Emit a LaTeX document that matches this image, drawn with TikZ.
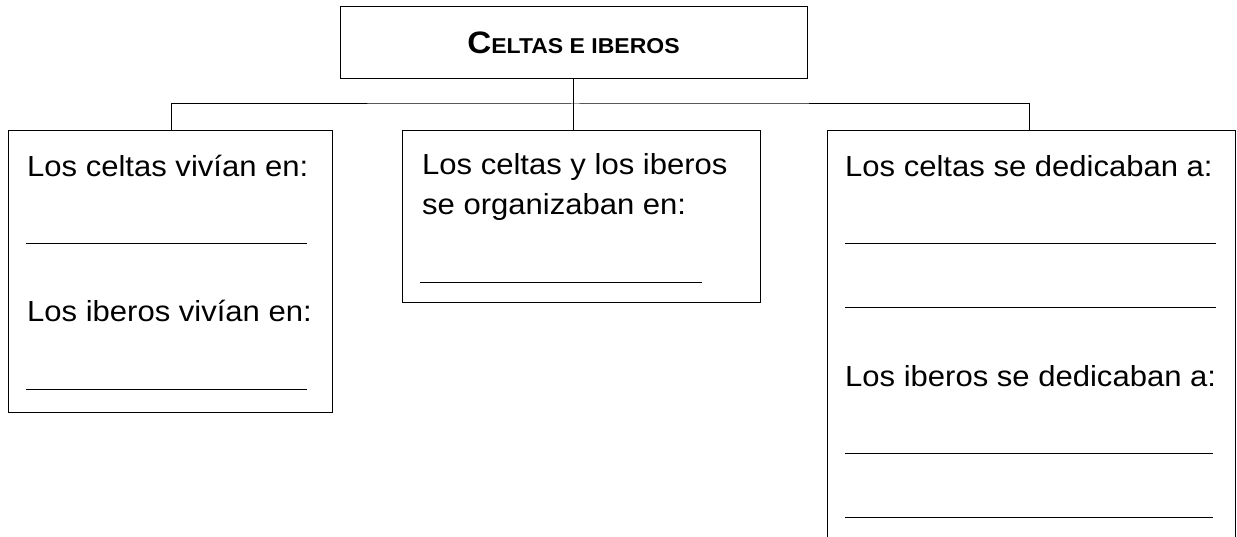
\documentclass[tikz,border=0pt]{standalone}
\usepackage{fontspec}
\setmainfont{Liberation Sans}[FakeStretch=1.07]
\usetikzlibrary{positioning}
\tikzset{
  box/.style={draw,line width=1pt,inner sep=0pt},
  txt/.style={anchor=base west,inner sep=0pt,font=\fontsize{29}{40}\selectfont},
  blank/.style={line width=0.8pt},
}

\begin{document}
\begin{tikzpicture}[x=1pt,y=-1pt]
  \clip (0,0) rectangle (1237,537);
  \node[box,minimum width=467pt,minimum height=72pt] (title) at (573.5,43)
    {\bfseries{\fontsize{31}{31}\selectfont C}\fontsize{21.5}{21.5}\selectfont ELTAS E IBEROS};
  \node[box,minimum width=324pt,minimum height=281pt] (left) at (170,271.5) {};
  \node[box,minimum width=358pt,minimum height=172pt] (mid) at (581,217) {};
  \node[box,minimum width=408pt,minimum height=469pt] (right) at (1031,365.5) {};
  \coordinate (bus) at (575,104);
  \draw[line width=1pt] (title.south) -- (mid.north -| title.south);
  \draw[line width=1pt] (left.north -| 171,0) |- (bus) -| (right.north -| 1029,0);

  \node[txt] (celtasviv) at (27,177) {Los celtas vivían en:};
  \node[txt] (iberosviv) at (27,322) {Los iberos vivían en:};
  \draw[blank] (26,243) -- (307,243);
  \draw[blank] (26,389) -- (307,389);

  \node[txt] (organizA) at (422,175) {Los celtas y los iberos};
  \node[txt] (organizB) at (422,215) {se organizaban en:};
  \draw[blank] (420,282) -- (702,282);

  \node[txt] (celtasded) at (845,177) {Los celtas se dedicaban a:};
  \node[txt] (iberosded) at (845,386) {Los iberos se dedicaban a:};
  \draw[blank] (845,243) -- (1216,243);
  \draw[blank] (845,307) -- (1216,307);
  \draw[blank] (845,453) -- (1213,453);
  \draw[blank] (845,517) -- (1213,517);
\end{tikzpicture}
\end{document}
